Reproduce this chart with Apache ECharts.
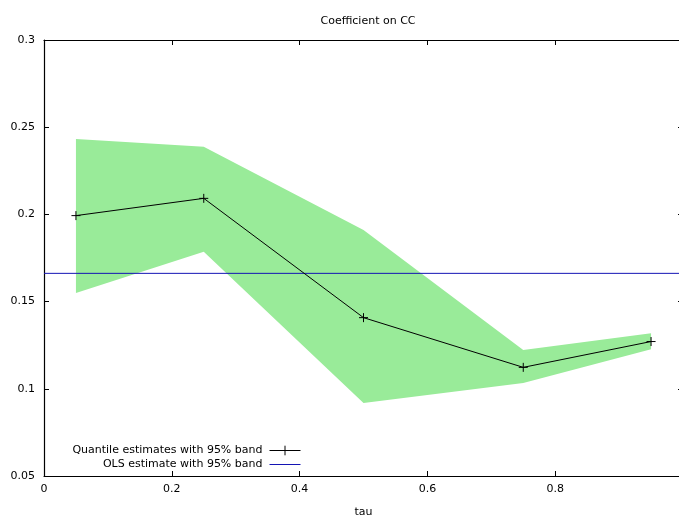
<!DOCTYPE html>
<html>
<head>
<meta charset="utf-8">
<script src="https://cdn.jsdelivr.net/npm/echarts@6/dist/echarts.min.js"></script>
<style>
html,body{margin:0;padding:0;background:#fff;}
#chart{width:679px;height:515px;}
</style>
</head>
<body>
<div id="chart"></div>
<script>
// Data
var tau = [0.05, 0.25, 0.5, 0.75, 0.95];
var quantileEst = [0.1993, 0.2092, 0.1408, 0.1123, 0.1271];
var bandUpper = [0.2432, 0.2388, 0.1911, 0.1222, 0.1318];
var bandLower = [0.1549, 0.1786, 0.0919, 0.1033, 0.1227];
var olsEstimate = 0.1662;
var xTicks = [0, 0.2, 0.4, 0.6, 0.8, 1];
var yTicks = [0.05, 0.1, 0.15, 0.2, 0.25, 0.3];

var FONT = 'DejaVu Sans';
var chart = echarts.init(document.getElementById('chart'), null, {renderer: 'canvas'});

var bandData = tau.map(function (t, i) { return [t, bandLower[i], bandUpper[i]]; });
var estData = tau.map(function (t, i) { return [t, quantileEst[i]]; });
var olsData = [[xTicks[0], olsEstimate], [xTicks[xTicks.length - 1], olsEstimate]];

var crossSymbol = 'path://M0,5L10,5M5,0L5,10';

function fmt(v) { return String(+v.toFixed(2)); }

var option = {
  animation: false,
  backgroundColor: '#fff',
  title: {
    text: 'Coefficient on CC',
    left: 363,
    top: 11,
    textAlign: 'center',
    textStyle: {fontFamily: FONT, fontSize: 11, fontWeight: 'normal', color: '#000'}
  },
  grid: {left: 44, top: 40, width: 639, height: 436, containLabel: false, outerBoundsMode: 'none'},
  legend: [
    {
      data: [{name: 'Quantile estimates with 95% band', lineStyle: {width: 1}, itemStyle: {borderWidth: 1}}],
      orient: 'vertical',
      right: 378, top: 445,
      align: 'right', padding: 0,
      itemWidth: 31, itemHeight: 12,
      textStyle: {fontFamily: FONT, fontSize: 11, color: '#000', padding: [0, 2, 0, 0]}
    },
    {
      data: [{name: 'OLS estimate with 95% band', lineStyle: {width: 1}, itemStyle: {opacity: 0}}],
      orient: 'vertical',
      right: 378, top: 459,
      align: 'right', padding: 0,
      itemWidth: 31, itemHeight: 12,
      textStyle: {fontFamily: FONT, fontSize: 11, color: '#000', padding: [0, 2, 0, 0]}
    }
  ],
  xAxis: [
    {
      type: 'value', min: 0, max: 1, interval: 0.2,
      name: 'tau', nameLocation: 'middle', nameGap: 31,
      nameTextStyle: {fontFamily: FONT, fontSize: 11, color: '#000'},
      axisLine: {onZero: false, lineStyle: {color: '#000', width: 1.2}},
      axisTick: {inside: true, length: 5, lineStyle: {color: '#000'}},
      axisLabel: {fontFamily: FONT, fontSize: 11, color: '#000', margin: 8, formatter: fmt},
      splitLine: {show: false}
    },
    {
      type: 'value', position: 'top', min: 0, max: 1, interval: 0.2,
      axisLine: {onZero: false, lineStyle: {color: '#000', width: 1.2}},
      axisTick: {inside: true, length: 5, lineStyle: {color: '#000'}},
      axisLabel: {show: false},
      splitLine: {show: false}
    }
  ],
  yAxis: [
    {
      type: 'value', min: 0.05, max: 0.3, interval: 0.05,
      axisLine: {show: true, onZero: false, lineStyle: {color: '#000', width: 1.2}},
      axisTick: {show: true, inside: true, length: 5, lineStyle: {color: '#000'}},
      axisLabel: {fontFamily: FONT, fontSize: 11, color: '#000', margin: 9, formatter: fmt},
      splitLine: {show: false}
    },
    {
      type: 'value', position: 'right', min: 0.05, max: 0.3, interval: 0.05,
      axisLine: {show: true, onZero: false, lineStyle: {color: '#000', width: 1.2}},
      axisTick: {show: true, inside: true, length: 5, lineStyle: {color: '#000'}},
      axisLabel: {show: false},
      splitLine: {show: false}
    }
  ],
  series: [
    {
      name: 'band',
      type: 'custom',
      z: 1,
      silent: true,
      data: bandData,
      encode: {x: 0, y: [1, 2]},
      renderItem: function (params, api) {
        if (params.dataIndex !== 0) return null;
        var pts = [];
        var i;
        for (i = 0; i < bandData.length; i++) pts.push(api.coord([bandData[i][0], bandData[i][2]]));
        for (i = bandData.length - 1; i >= 0; i--) pts.push(api.coord([bandData[i][0], bandData[i][1]]));
        return {
          type: 'polygon',
          shape: {points: pts},
          style: {fill: '#99eb99', stroke: null}
        };
      }
    },
    {
      name: 'Quantile estimates with 95% band',
      type: 'line',
      z: 3,
      data: estData,
      symbol: crossSymbol,
      symbolSize: 9,
      showAllSymbol: true,
      lineStyle: {color: '#000', width: 1},
      itemStyle: {color: '#000', borderColor: '#000', borderWidth: 1},
      emphasis: {disabled: true}
    },
    {
      name: 'OLS estimate with 95% band',
      type: 'line',
      z: 2,
      data: olsData,
      symbol: 'none',
      lineStyle: {color: '#1414b4', width: 1},
      itemStyle: {color: '#1414b4'},
      emphasis: {disabled: true}
    }
  ]
};
chart.setOption(option);
</script>
</body>
</html>
